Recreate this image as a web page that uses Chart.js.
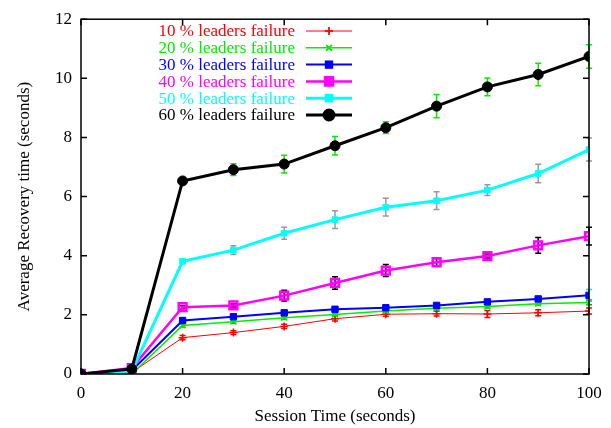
<!DOCTYPE html>
<html>
<head>
<meta charset="utf-8">
<script src="https://cdn.jsdelivr.net/npm/chart.js@4"></script>
<style>
  html, body { margin: 0; padding: 0; background: #fff; }
  #wrap { width: 611px; height: 428px; }
</style>
</head>
<body>
<div id="wrap"><canvas id="recoveryChart" width="611" height="428"></canvas></div>
<script>
// session time (x) and average recovery time per leader failure rate
var sessionTime = [0, 10, 20, 30, 40, 50, 60, 70, 80, 90, 100];
var fail10 = [0, 0.05, 1.23, 1.40, 1.61, 1.87, 2.02, 2.04, 2.03, 2.07, 2.13];
var fail20 = [0, 0.0, 1.64, 1.77, 1.90, 2.01, 2.13, 2.22, 2.28, 2.38, 2.42];
var fail30 = [0, 0.12, 1.81, 1.94, 2.07, 2.19, 2.24, 2.32, 2.44, 2.54, 2.66];
var fail40 = [0, 0.2, 2.26, 2.32, 2.65, 3.08, 3.50, 3.78, 3.99, 4.35, 4.66];
var fail50 = [0, 0.1, 3.81, 4.19, 4.76, 5.22, 5.64, 5.86, 6.22, 6.78, 7.59];
var fail60 = [0, 0.17, 6.53, 6.91, 7.10, 7.72, 8.33, 9.06, 9.71, 10.13, 10.74];
// error bar half-widths
var err10 = [0, 0.02, 0.07, 0.06, 0.07, 0.08, 0.07, 0.08, 0.12, 0.1, 0.1];
var err20 = [0, 0, 0.05, 0.05, 0.05, 0.05, 0.05, 0.05, 0.05, 0.05, 0.08];
var err30 = [0, 0, 0.08, 0.05, 0.05, 0.05, 0.05, 0.05, 0.05, 0.05, 0.2];
var err40 = [0, 0, 0.05, 0.05, 0.18, 0.21, 0.2, 0.13, 0.07, 0.27, 0.3];
var err50 = [0, 0, 0.07, 0.15, 0.2, 0.3, 0.3, 0.3, 0.18, 0.31, 0.39];
var err60 = [0, 0.05, 0.05, 0.2, 0.3, 0.31, 0.2, 0.39, 0.3, 0.38, 0.4];
var xTicks = [0, 20, 40, 60, 80, 100];
var yTicks = [0, 2, 4, 6, 8, 10, 12];

var FONT = '"Liberation Serif", "Times New Roman", serif';

var seriesDefs = [
    { label: '10 % leaders failure', values: fail10, errors: err10, color: '#ff0000', errColor: '#ff0000', width: 1, style: 'cross', radius: 4, fill: '#ff0000' },
    { label: '20 % leaders failure', values: fail20, errors: err20, color: '#00ee00', errColor: '#00b000', width: 1.5, style: 'crossRot', radius: 4, fill: '#00ee00' },
    { label: '30 % leaders failure', values: fail30, errors: err30, color: '#0000ff', errColor: '#00e0e0', width: 2, style: 'rect', radius: 4.5, fill: '#0000ff' },
    { label: '40 % leaders failure', values: fail40, errors: err40, color: '#ff00ff', errColor: '#000000', width: 2.5, style: 'rect', radius: 5.5, fill: 'rgba(255,0,255,0.25)' },
    { label: '50 % leaders failure', values: fail50, errors: err50, color: '#00ffff', errColor: '#999999', width: 3, style: 'rect', radius: 4, fill: '#00ffff' },
    { label: '60 % leaders failure', values: fail60, errors: err60, color: '#000000', errColor: '#00ee00', width: 3, style: 'circle', radius: 5, fill: '#000000' }
];

var datasets = [];
$each = function (arr, fn) { for (var i = 0; i < arr.length; i++) fn(i, arr[i]); };
$each(seriesDefs, function (key, s) {
    datasets.push({
        label: s.label,
        data: sessionTime.map(function (t, i) { return { x: t, y: s.values[i] }; }),
        borderColor: s.color,
        backgroundColor: s.fill,
        borderWidth: s.width,
        pointStyle: s.style,
        pointRadius: s.radius,
        pointBorderColor: s.color,
        pointBackgroundColor: s.fill,
        pointBorderWidth: s.style === 'cross' || s.style === 'crossRot' ? 1.5 : (s.style === 'rect' && key === 3 ? 2.5 : 1),
        tension: 0,
        order: seriesDefs.length - key,
        errors: s.errors,
        errColor: s.errColor
    });
});

// error bars, drawn just before each dataset's line
var errorBars = {
    id: 'errorBars',
    beforeDatasetDraw: function (chart, args) {
        var ds = chart.data.datasets[args.index];
        var xs = chart.scales.x, ys = chart.scales.y, ctx = chart.ctx;
        ctx.save();
        ctx.strokeStyle = ds.errColor;
        ctx.lineWidth = 1.5;
        ds.data.forEach(function (p, i) {
            var e = ds.errors[i];
            if (!e) return;
            var px = xs.getPixelForValue(p.x);
            var y1 = ys.getPixelForValue(p.y + e), y2 = ys.getPixelForValue(p.y - e);
            ctx.beginPath();
            ctx.moveTo(px, y1); ctx.lineTo(px, y2);
            ctx.moveTo(px - 3, y1); ctx.lineTo(px + 3, y1);
            ctx.moveTo(px - 3, y2); ctx.lineTo(px + 3, y2);
            ctx.stroke();
        });
        ctx.restore();
    }
};

// gnuplot style frame with inward mirror ticks
var frame = {
    id: 'frame',
    afterDatasetsDraw: function (chart) {
        var a = chart.chartArea, ctx = chart.ctx;
        var xs = chart.scales.x, ys = chart.scales.y;
        ctx.save();
        ctx.strokeStyle = '#000';
        ctx.lineWidth = 1.5;
        ctx.strokeRect(a.left, a.top, a.right - a.left, a.bottom - a.top);
        ctx.beginPath();
        xTicks.forEach(function (v) {
            var px = xs.getPixelForValue(v);
            ctx.moveTo(px, a.bottom); ctx.lineTo(px, a.bottom - 6);
            ctx.moveTo(px, a.top); ctx.lineTo(px, a.top + 6);
        });
        yTicks.forEach(function (v) {
            var py = ys.getPixelForValue(v);
            ctx.moveTo(a.left, py); ctx.lineTo(a.left + 6, py);
            ctx.moveTo(a.right, py); ctx.lineTo(a.right - 6, py);
        });
        ctx.stroke();
        ctx.restore();
    }
};

// key in the upper left, text right aligned, sample after it
var keyBox = {
    id: 'keyBox',
    afterDraw: function (chart) {
        var ctx = chart.ctx;
        ctx.save();
        ctx.font = '17px ' + FONT;
        ctx.textAlign = 'right';
        ctx.textBaseline = 'middle';
        chart.data.datasets.forEach(function (ds, i) {
            var y = 31 + i * 16.8;
            ctx.fillStyle = ds.borderColor;
            ctx.fillText(ds.label, 295, y + 1);
            ctx.strokeStyle = ds.borderColor;
            ctx.lineWidth = ds.borderWidth;
            ctx.beginPath();
            ctx.moveTo(306, y); ctx.lineTo(352, y);
            ctx.stroke();
            Chart.helpers.drawPoint(ctx, {
                pointStyle: ds.pointStyle, radius: ds.pointRadius, rotation: 0, borderWidth: ds.pointBorderWidth
            }, 329, y);
            ctx.fillStyle = ds.pointBackgroundColor;
            ctx.strokeStyle = ds.pointBorderColor;
            ctx.lineWidth = ds.pointBorderWidth;
            ctx.beginPath();
            Chart.helpers.drawPoint(ctx, {
                pointStyle: ds.pointStyle, radius: ds.pointRadius, rotation: 0, borderWidth: ds.pointBorderWidth
            }, 329, y);
        });
        ctx.restore();
    }
};

var chart = new Chart(document.getElementById('recoveryChart').getContext('2d'), {
    type: 'line',
    data: { datasets: datasets },
    options: {
        responsive: false,
        animation: false,
        layout: { padding: { top: 16, right: 22, left: 0, bottom: 0 } },
        plugins: {
            legend: { display: false },
            tooltip: { enabled: false }
        },
        scales: {
            x: {
                type: 'linear', min: 0, max: 100,
                afterFit: function (s) { s.height = 54; },
                grid: { display: false, drawTicks: false },
                border: { display: false },
                ticks: { stepSize: 20, padding: 9, color: '#000', font: { family: FONT, size: 17 } },
                title: { display: true, text: 'Session Time (seconds)', color: '#000', padding: { top: 0, bottom: 1 }, font: { family: FONT, size: 17 } }
            },
            y: {
                min: 0, max: 12,
                afterFit: function (s) { s.width = 81; },
                grid: { display: false, drawTicks: false },
                border: { display: false },
                ticks: { stepSize: 2, padding: 9, color: '#000', font: { family: FONT, size: 17 } },
                title: { display: true, text: 'Average Recovery time (seconds)', color: '#000', padding: { top: 14, bottom: 0 }, font: { family: FONT, size: 17 } }
            }
        }
    },
    plugins: [errorBars, frame, keyBox]
});
</script>
</body>
</html>
